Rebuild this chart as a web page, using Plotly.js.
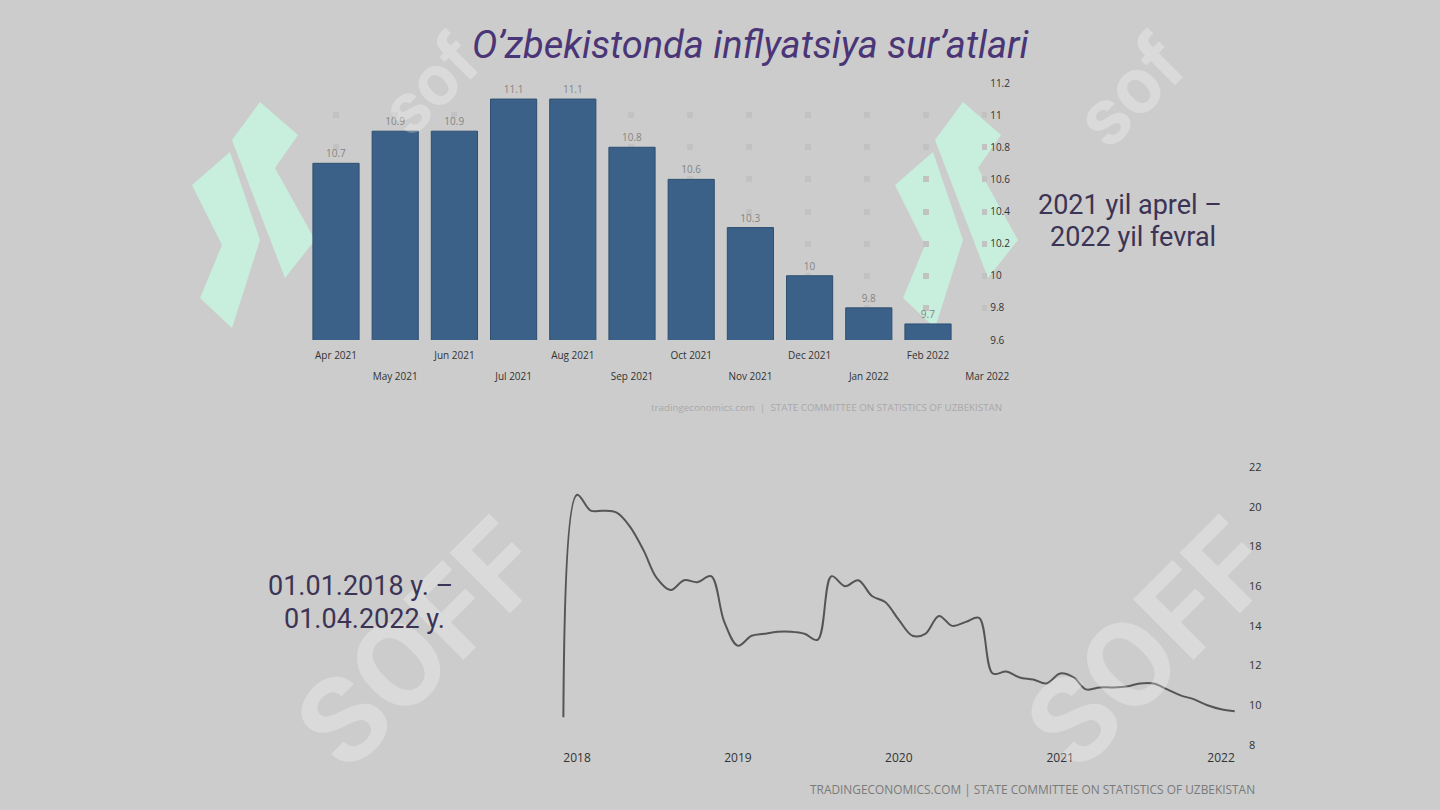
<!DOCTYPE html>
<html>
<head>
<meta charset="utf-8">
<script src="https://cdn.plot.ly/plotly-3.0.1.min.js"></script>
<style>
  html, body { margin: 0; padding: 0; background: #cccccc; }
  #chart { width: 1440px; height: 810px; }
</style>
</head>
<body>
<div id="chart"></div>
<script>
// ---- Data: monthly inflation bars (Apr 2021 - Feb 2022) ----
const barMonths = ['Apr 2021','May 2021','Jun 2021','Jul 2021','Aug 2021','Sep 2021','Oct 2021','Nov 2021','Dec 2021','Jan 2022','Feb 2022','Mar 2022'];
const barValues = [10.7, 10.9, 10.9, 11.1, 11.1, 10.8, 10.6, 10.3, 10.0, 9.8, 9.7, null];
const barYTicks = [9.6, 9.8, 10, 10.2, 10.4, 10.6, 10.8, 11, 11.2];

// ---- Data: inflation history line (Dec 2017 - Feb 2022) ----
const lineDates = [
  '2017-12-01',
  '2018-01-01','2018-02-01','2018-03-01','2018-04-01','2018-05-01','2018-06-01',
  '2018-07-01','2018-08-01','2018-09-01','2018-10-01','2018-11-01','2018-12-01',
  '2019-01-01','2019-02-01','2019-03-01','2019-04-01','2019-05-01','2019-06-01',
  '2019-07-01','2019-08-01','2019-09-01','2019-10-01','2019-11-01','2019-12-01',
  '2020-01-01','2020-02-01','2020-03-01','2020-04-01','2020-05-01','2020-06-01',
  '2020-07-01','2020-08-01','2020-09-01','2020-10-01','2020-11-01','2020-12-01',
  '2021-01-01','2021-02-01','2021-03-01','2021-04-01','2021-05-01','2021-06-01',
  '2021-07-01','2021-08-01','2021-09-01','2021-10-01','2021-11-01','2021-12-01',
  '2022-01-01','2022-02-01'
];
const lineValues = [
  9.4,
  20.6, 19.8, 19.8, 19.7, 19.0, 17.8,
  16.4, 15.8, 16.3, 16.2, 16.5, 14.2,
  13.0, 13.5, 13.6, 13.7, 13.7, 13.6,
  13.3, 16.5, 16.0, 16.3, 15.5, 15.2,
  14.3, 13.5, 13.6, 14.5, 14.0, 14.2,
  14.4, 11.6, 11.7, 11.4, 11.3, 11.1,
  11.6, 11.4, 10.8, 10.9, 10.9, 10.95,
  11.1, 11.1, 10.8, 10.5, 10.3, 10.0,
  9.8, 9.7
];
const lineYTicks = [8, 10, 12, 14, 16, 18, 20, 22];
const lineXTicks = ['2018-01-01','2019-01-01','2020-01-01','2021-01-01','2022-01-01'];
const lineXText = ['2018','2019','2020','2021','2022'];

// ---- Texts ----
const titleText = 'O’zbekistonda inflyatsiya sur’atlari';
const rightNote = ['2021 yil aprel –', '2022 yil fevral'];
const leftNote = ['01.01.2018 y. –', '01.04.2022 y.'];
const topSource = 'tradingeconomics.com  |  STATE COMMITTEE ON STATISTICS OF UZBEKISTAN';
const bottomSource = 'TRADINGECONOMICS.COM | STATE COMMITTEE ON STATISTICS OF UZBEKISTAN';

const W = 1440, H = 810;
const px = x => x / W;
const py = y => 1 - y / H;

const evenIdx = barMonths.filter((_, i) => i % 2 === 0);
const oddIdx = barMonths.filter((_, i) => i % 2 === 1);

const traces = [
  {
    type: 'bar', x: barMonths, y: barValues, xaxis: 'x', yaxis: 'y',
    marker: { color: '#3b6189', line: { color: '#2f4f70', width: 1 } },
    text: barValues.map(v => v === null ? '' : String(v)),
    textposition: 'outside', cliponaxis: false,
    textfont: { family: 'Open Sans', size: 10, color: '#858585' },
    hoverinfo: 'x+y', showlegend: false
  },
  {
    type: 'scatter', mode: 'markers', x: barMonths, y: barMonths.map(() => null),
    xaxis: 'x2', yaxis: 'y', showlegend: false, hoverinfo: 'skip'
  },
  {
    type: 'scatter', mode: 'lines', x: lineDates, y: lineValues, xaxis: 'x3', yaxis: 'y3',
    line: { color: '#555555', width: 2, shape: 'spline', smoothing: 1 },
    showlegend: false
  }
];

const tickFont = { family: 'Open Sans', size: 10, color: '#333333' };

// watermark decorations (logo marks)
const mint = '#c8eedd';
const logo = (ox) => ([
  { type: 'path', xref: 'paper', yref: 'paper', layer: 'below', line: { width: 0 }, fillcolor: mint,
    path: `M ${px(ox + 2)} ${py(185)} L ${px(ox + 40)} ${py(152)} L ${px(ox + 70)} ${py(240)} L ${px(ox + 42)} ${py(328)} L ${px(ox + 10)} ${py(298)} L ${px(ox + 32)} ${py(245)} Z` },
  { type: 'path', xref: 'paper', yref: 'paper', layer: 'below', line: { width: 0 }, fillcolor: mint,
    path: `M ${px(ox + 42)} ${py(140)} L ${px(ox + 70)} ${py(102)} L ${px(ox + 108)} ${py(135)} L ${px(ox + 85)} ${py(168)} L ${px(ox + 125)} ${py(240)} L ${px(ox + 95)} ${py(278)} L ${px(ox + 65)} ${py(200)} Z` }
]);
const shapes = [...logo(190), ...logo(893)];

const wm = (x, y, txt, size) => ({
  xref: 'paper', yref: 'paper', x: px(x), y: py(y), text: txt, showarrow: false,
  xanchor: 'center', yanchor: 'middle',
  textangle: -45, opacity: 0.28,
  font: { family: 'Roboto', size: size, color: '#ffffff', weight: 'bold' }
});

const note = (x, y, txt) => ({
  xref: 'paper', yref: 'paper', x: px(x), y: py(y), text: txt, showarrow: false,
  xanchor: 'center', yanchor: 'middle',
  font: { family: 'Roboto', size: 27, color: '#3c3454' }
});

const annotations = [
  wm(420, 645, 'SOFF', 120),
  wm(1150, 645, 'SOFF', 120),
  wm(430, 85, 'sof', 72),
  wm(1130, 92, 'sof', 80),
  { xref: 'paper', yref: 'paper', x: px(750), y: py(45), text: titleText, showarrow: false,
    xanchor: 'center', yanchor: 'middle',
    font: { family: 'Roboto', size: 38, color: '#4a3577', style: 'italic' } },
  note(1130, 205, rightNote[0]),
  note(1133, 237, rightNote[1]),
  note(360, 586, leftNote[0]),
  note(364, 619, leftNote[1]),
  { xref: 'paper', yref: 'paper', x: px(1004), y: py(407), text: topSource, showarrow: false,
    xanchor: 'right', yanchor: 'middle',
    font: { family: 'Open Sans', size: 9.8, color: '#a8a8a8' } },
  { xref: 'paper', yref: 'paper', x: px(1257), y: py(789), text: bottomSource, showarrow: false,
    xanchor: 'right', yanchor: 'middle',
    font: { family: 'Open Sans', size: 11.9, color: '#7a7a7a' } }
];

const layout = {
  width: W, height: H,
  paper_bgcolor: '#cccccc', plot_bgcolor: 'rgba(0,0,0,0)',
  margin: { l: 0, r: 0, t: 0, b: 0 },
  showlegend: false,
  bargap: 0.22,
  xaxis: {
    domain: [px(306.4), px(987.2)], anchor: 'y',
    type: 'category', categoryorder: 'array', categoryarray: barMonths,
    range: [-0.5, 11],
    tickvals: evenIdx, ticktext: evenIdx,
    tickfont: tickFont, ticks: '', showgrid: false, showline: false, zeroline: false,
    ticklabelstandoff: 8
  },
  xaxis2: {
    domain: [px(306.4), px(987.2)], anchor: 'y', overlaying: 'x',
    type: 'category', categoryorder: 'array', categoryarray: barMonths,
    range: [-0.5, 11],
    tickvals: oddIdx, ticktext: oddIdx,
    tickfont: tickFont, ticks: '', showgrid: false, showline: false, zeroline: false,
    ticklabelstandoff: 29
  },
  yaxis: {
    domain: [py(340), py(83)], anchor: 'x', side: 'right',
    range: [9.6, 11.2], tickvals: barYTicks,
    tickfont: tickFont, ticks: '', showline: false, zeroline: false,
    showgrid: true, gridcolor: '#c2c2c2', gridwidth: 6, griddash: '0px,27px,6px,26px',
    ticklabelstandoff: 2
  },
  xaxis3: {
    domain: [px(555), px(1244)], anchor: 'y3', type: 'date',
    range: ['2017-11-12', '2022-02-22'],
    tickvals: lineXTicks, ticktext: lineXText,
    tickfont: { family: 'Open Sans', size: 12, color: '#333333' },
    ticks: '', showgrid: false, showline: false, zeroline: false,
    ticklabelstandoff: 4
  },
  yaxis3: {
    domain: [py(745), py(467)], anchor: 'x3', side: 'right',
    range: [8, 22], tickvals: lineYTicks,
    tickfont: { family: 'Open Sans', size: 11, color: '#333333' },
    ticks: '', showgrid: false, showline: false, zeroline: false,
    ticklabelstandoff: 4
  },
  shapes: shapes,
  annotations: annotations
};

Plotly.newPlot('chart', traces, layout, { displayModeBar: false, staticPlot: true });
</script>
</body>
</html>
